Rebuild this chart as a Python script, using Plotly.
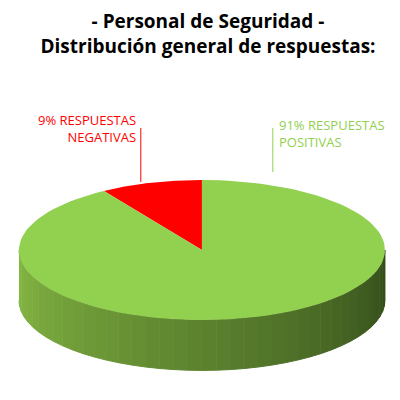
import numpy as np
import plotly.graph_objects as go

categories = ["RESPUESTAS NEGATIVAS", "RESPUESTAS POSITIVAS"]
values = [9, 91]
colors = ["#ff0000", "#92d050"]

depth = 0.72
start = 90.0  # slices go counterclockwise from 12 o'clock

fig = go.Figure()

# side wall (only visible front half), split in strips for shading
n = 40
edges = np.linspace(180, 360, n + 1)
for i in range(n):
    a = np.radians(np.linspace(edges[i], edges[i + 1], 6))
    x = np.cos(a)
    y = np.sin(a)
    t = i / (n - 1)
    c0 = np.array([0x86, 0xb8, 0x44])
    c1 = np.array([0x33, 0x4d, 0x1a])
    c = (c0 * (1 - t) + c1 * t).astype(int)
    col = "rgb(%d,%d,%d)" % tuple(c)
    fig.add_trace(go.Scatter(
        x=np.concatenate([x, x[::-1]]),
        y=np.concatenate([y, y[::-1] - depth]),
        fill="toself", mode="lines", line=dict(width=1, color=col),
        fillcolor=col, hoverinfo="skip", showlegend=False))

# top face slices
total = sum(values)
a0 = start
for name, v, col in zip(categories, values, colors):
    a1 = a0 + 360.0 * v / total
    a = np.radians(np.linspace(a0, a1, 120))
    fig.add_trace(go.Scatter(
        x=np.concatenate([[0], np.cos(a), [0]]),
        y=np.concatenate([[0], np.sin(a), [0]]),
        fill="toself", mode="lines", line=dict(width=0, color=col),
        fillcolor=col, name=name, showlegend=False))
    a0 = a1

pct = [round(100 * v / total) for v in values]
fig.add_annotation(x=0.325, y=0.70, xref="paper", yref="paper",
                   xanchor="right", yanchor="middle", align="right", showarrow=False,
                   text="%d%% RESPUESTAS<br>NEGATIVAS" % pct[0],
                   font=dict(color="#ff0000", size=13))
fig.add_annotation(x=0.672, y=0.685, xref="paper", yref="paper",
                   xanchor="left", yanchor="middle", align="left", showarrow=False,
                   text="%d%% RESPUESTAS<br>POSITIVAS" % pct[1],
                   font=dict(color="#92d050", size=13))
fig.add_shape(type="line", xref="paper", yref="paper", x0=0.332, x1=0.332,
              y0=0.70, y1=0.565, line=dict(color="#ff0000", width=1))
fig.add_shape(type="line", xref="paper", yref="paper", x0=0.662, x1=0.662,
              y0=0.70, y1=0.59, line=dict(color="#92d050", width=1))

fig.update_layout(
    width=400, height=400,
    margin=dict(l=0, r=0, t=0, b=0),
    paper_bgcolor="white", plot_bgcolor="white",
    font=dict(family="Open Sans"),
    title=dict(text="<b>- Personal de Seguridad -<br>Distribución general de respuestas:</b>",
               x=0.5, xanchor="center", y=0.95, yanchor="top",
               font=dict(size=19, color="black")),
    xaxis=dict(range=[-1.06, 1.126], visible=False, fixedrange=True),
    yaxis=dict(range=[-2.257, 3.457], visible=False, fixedrange=True),
)

fig.write_html("out.html")
